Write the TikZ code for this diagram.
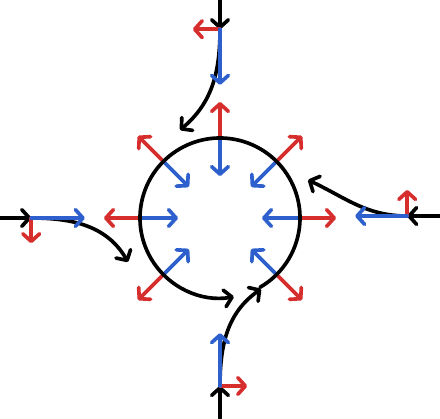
\documentclass[tikz,border=0pt]{standalone}
\usepackage{tikz}
\usetikzlibrary{arrows.meta}
\definecolor{rosso}{RGB}{214,45,45}
\definecolor{blu}{RGB}{45,95,205}

\tikzset{
    freccia/.style={line width=2.6pt, line cap=round,
        -{Straight Barb[length=1.9mm,width=4.2mm,line cap=round,line join=round]}},
}

\begin{document}
\begin{tikzpicture}
    \useasboundingbox (-5.5,-5) rectangle (5.5,5.45);

    % Punti di ingresso e punti di arrivo
    \coordinate (N) at (0,4.72);
    \coordinate (O) at (-4.72,0);
    \coordinate (E) at (4.68,0.05);
    \coordinate (S) at (0,-4.2);
    \coordinate (fN) at (-1.0,2.2);
    \coordinate (fO) at (-2.3,-1.1);
    \coordinate (fE) at (2.2,0.95);
    \coordinate (fS) at (-60:2.05);

    % Traiettorie curve
    \draw[freccia] (N) to[out=-90, in=40] (fN);
    \draw[freccia] (O) to[out=0, in=120] (fO);
    \draw[freccia] (E) to[out=180, in=-25] (fE);
    \draw[freccia] (S) to[out=90, in=215] (fS);

    % Frecce in ingresso
    \draw[freccia] (0,5.45) -- (N);
    \draw[freccia] (-5.5,0) -- (O);
    \draw[freccia] (5.5,0.05) -- (E);
    \draw[freccia] (0,-5) -- (S);

    % Componenti laterali
    \draw[freccia, rosso] (N) -- ++(-0.68,0);
    \draw[freccia, rosso] (O) -- ++(0,-0.63);
    \draw[freccia, rosso] (E) -- ++(0,0.65);
    \draw[freccia, rosso] (S) -- ++(0.68,0);

    % Componenti verso il centro
    \draw[freccia, blu] (N) -- ++(0,-1.39);
    \draw[freccia, blu] (O) -- ++(1.34,0);
    \draw[freccia, blu] (E) -- ++(-1.3,0);
    \draw[freccia, blu] (S) -- ++(0,1.32);

    % Frecce radiali verso l'esterno
    \draw[freccia, rosso] (0:2) -- (0:2.9);
    \draw[freccia, rosso] (45:2) -- (45:2.9);
    \draw[freccia, rosso] (90:2) -- (90:2.9);
    \draw[freccia, rosso] (135:2) -- (135:2.9);
    \draw[freccia, rosso] (180:2) -- (180:2.9);
    \draw[freccia, rosso] (225:2) -- (225:2.9);
    \draw[freccia, rosso] (315:2) -- (315:2.9);

    % Frecce radiali verso il centro
    \draw[freccia, blu] (0:2) -- (0:1.05);
    \draw[freccia, blu] (45:2) -- (45:1.1);
    \draw[freccia, blu] (90:2) -- (90:1.05);
    \draw[freccia, blu] (135:2) -- (135:1.1);
    \draw[freccia, blu] (180:2) -- (180:1.05);
    \draw[freccia, blu] (225:2) -- (225:1.1);
    \draw[freccia, blu] (315:2) -- (315:1.1);

    % Cerchio
    \draw[freccia] (-60:2) arc[start angle=-60, end angle=280, radius=2];
\end{tikzpicture}
\end{document}
